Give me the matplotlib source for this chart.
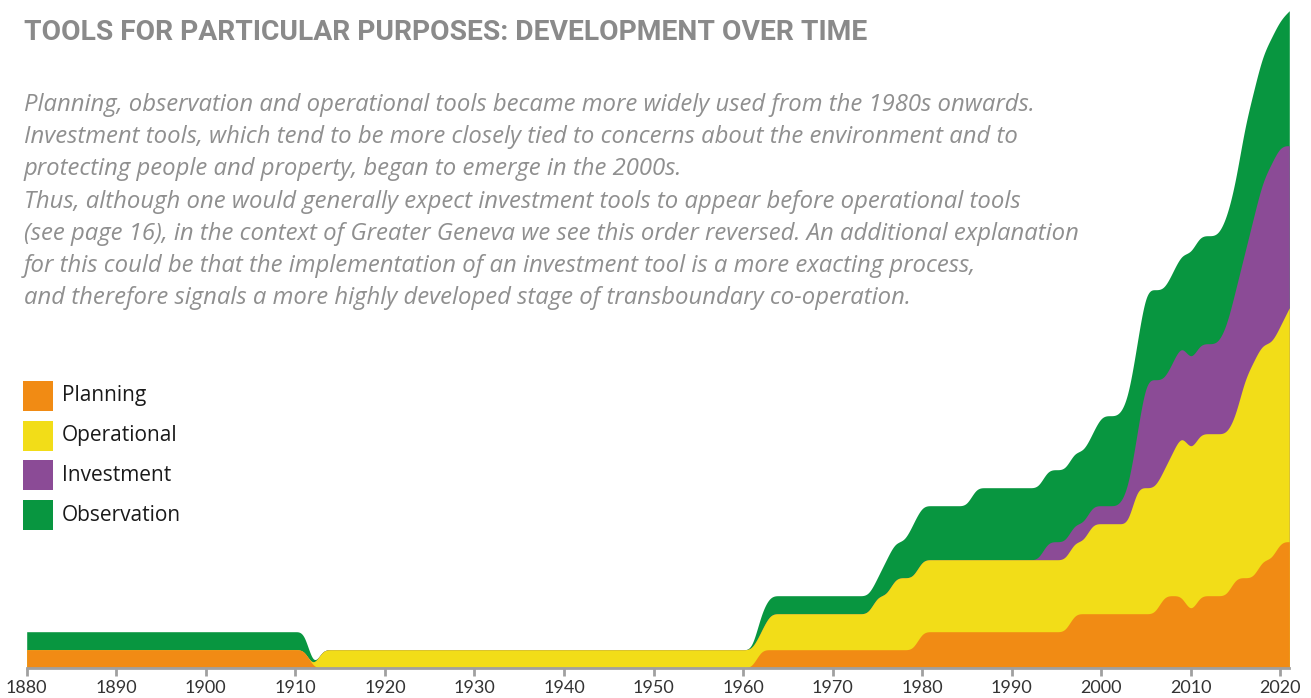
import matplotlib.pyplot as plt
import numpy as np
from matplotlib.patches import Rectangle

years = np.arange(1880, 2022)

# number of tools in use, as (first year, count) change points
planning = [(1880, 1), (1912, 0), (1962, 1), (1980, 2), (1997, 3), (2007, 4), (2010, 3),
            (2011, 4), (2015, 5), (2018, 6), (2020, 7)]
operational = [(1880, 0), (1913, 1), (1963, 2), (1975, 3), (1977, 4), (1999, 5), (2004, 7),
               (2008, 8), (2009, 9), (2016, 11), (2017, 12), (2021, 13)]
investment = [(1880, 0), (1994, 1), (2003, 2), (2004, 3), (2005, 6), (2007, 5), (2014, 6),
              (2015, 7), (2017, 8), (2018, 9), (2019, 10), (2021, 9)]
observation = [(1880, 1), (1912, 0), (1962, 1), (1976, 2), (1979, 3), (1986, 4), (2000, 5),
               (2010, 6), (2016, 7), (2021, 7.5)]

labels = ["Planning", "Operational", "Investment", "Observation"]
colors = ["#f18b14", "#f2dd18", "#8b4b96", "#089640"]

tick_years = list(range(1880, 2021, 10))

title = "TOOLS FOR PARTICULAR PURPOSES: DEVELOPMENT OVER TIME"
intro = [
    "Planning, observation and operational tools became more widely used from the 1980s onwards.",
    "Investment tools, which tend to be more closely tied to concerns about the environment and to",
    "protecting people and property, began to emerge in the 2000s.",
    "Thus, although one would generally expect investment tools to appear before operational tools",
    "(see page 16), in the context of Greater Geneva we see this order reversed. An additional explanation",
    "for this could be that the implementation of an investment tool is a more exacting process,",
    "and therefore signals a more highly developed stage of transboundary co-operation.",
]


def expand(changes):
    vals = np.zeros(len(years))
    for y, c in changes:
        vals[years >= y] = c
    return vals


def basis(x, y, steps=24):
    # uniform cubic b-spline through the yearly points (like d3 curveBasis)
    x = np.concatenate([[x[0]] * 2, x, [x[-1]] * 2]).astype(float)
    y = np.concatenate([[y[0]] * 2, y, [y[-1]] * 2]).astype(float)
    t = np.linspace(0, 1, steps, endpoint=False)
    b = [(1 - t) ** 3 / 6, (3 * t**3 - 6 * t**2 + 4) / 6,
         (-3 * t**3 + 3 * t**2 + 3 * t + 1) / 6, t**3 / 6]
    xs, ys = [], []
    for i in range(len(x) - 3):
        xs.append(sum(b[k] * x[i + k] for k in range(4)))
        ys.append(sum(b[k] * y[i + k] for k in range(4)))
    xs.append([x[-1]])
    ys.append([y[-1]])
    return np.concatenate(xs), np.concatenate(ys)


series = [expand(s) for s in (planning, operational, investment, observation)]
stacked = np.cumsum(series, axis=0)

fig = plt.figure(figsize=(13.11, 6.98), dpi=100)
ax = fig.add_axes([26.7 / 1311, 30.3 / 698, 1262.6 / 1311, 666 / 698])

# draw from the top layer down, each filled to zero, so no seams show
for i in range(3, -1, -1):
    xs, ys = basis(years, stacked[i])
    ax.fill_between(xs, 0, ys, color=colors[i], linewidth=0)

ax.set_xlim(1880, 2021)
ax.set_ylim(0, 37)
ax.set_yticks([])
for s in ["left", "right", "top"]:
    ax.spines[s].set_visible(False)
ax.spines["bottom"].set_color("#a0a0a0")
ax.spines["bottom"].set_linewidth(2)
ax.set_xticks(tick_years)
ax.set_xticklabels([str(y) for y in tick_years], family="Lato", fontsize=13, color="#333333")
ax.tick_params(axis="x", length=6, width=2, color="#a0a0a0", pad=3)
ax.patch.set_alpha(0)

fig.text(24 / 1311, 1 - 32 / 698, title, family="Roboto", weight="bold", fontsize=20.3,
         color="#8a8a8a", va="center", ha="left")
for i, line in enumerate(intro):
    fig.text(24 / 1311, 1 - (105 + 32.2 * i) / 698, line, family="Open Sans", style="italic",
             fontsize=17.2, color="#8f8f8f", va="center", ha="left")

for i, lab in enumerate(labels):
    yc = 396 + 39.7 * i
    fig.patches.append(Rectangle((23 / 1311, 1 - (yc + 15) / 698), 30 / 1311, 30 / 698,
                                 transform=fig.transFigure, color=colors[i], linewidth=0))
    fig.text(62 / 1311, 1 - yc / 698, lab, family="Open Sans", fontsize=15,
             color="#1a1a1a", va="center", ha="left")

fig.savefig("out.png", dpi=100)
